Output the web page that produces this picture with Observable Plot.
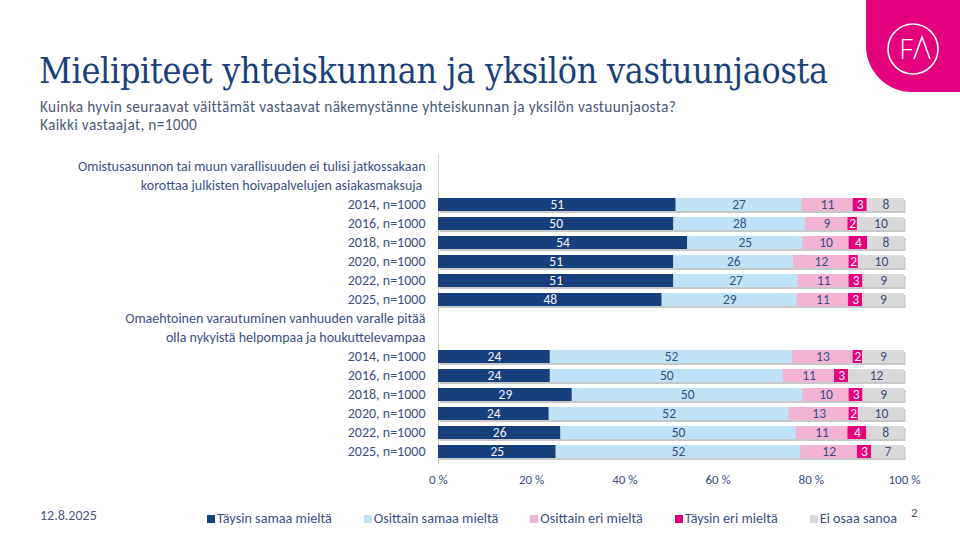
<!DOCTYPE html>
<html><head><meta charset="utf-8">
<script src="https://cdn.jsdelivr.net/npm/d3@7"></script>
<script src="https://cdn.jsdelivr.net/npm/@observablehq/plot@0.6"></script>
<style>
html,body{margin:0;padding:0;background:#fff;}
#page{position:relative;width:960px;height:540px;overflow:hidden;background:#fff;font-family:Carlito,Calibri,"Open Sans",sans-serif;}
#logo{position:absolute;left:866px;top:0;width:94px;height:92px;background:#e5007e;border-bottom-left-radius:46px;}
#title{position:absolute;left:39px;top:50px;font-family:"DejaVu Serif Condensed","DejaVu Serif",serif;font-size:35.6px;color:#1b3f7a;white-space:nowrap;letter-spacing:-0.3px;}
#sub{position:absolute;left:40px;top:98px;font-size:15.3px;line-height:17.5px;letter-spacing:0.35px;color:#4a5878;white-space:nowrap;}
#chart{position:absolute;left:0;top:140px;}
#date{position:absolute;left:40px;top:507px;font-size:14px;color:#4a5878;}
#pnum{position:absolute;left:911px;top:505px;font-size:13px;color:#4a5878;}
#legend{position:absolute;left:207px;top:509px;display:flex;gap:32px;font-size:14.2px;color:#3c4f7f;white-space:nowrap;}
#legend span.sw{display:inline-block;width:8px;height:8px;margin-right:2px;}
</style></head>
<body><div id="page">
<div id="logo"><svg width="94" height="92"><circle cx="47" cy="49" r="25" fill="none" stroke="#fff" stroke-width="1.6"/><text x="40" y="59" text-anchor="middle" fill="#fff" font-family="Open Sans" font-weight="300" font-size="27">F</text><polyline points="48,59 56,37 64,59" fill="none" stroke="#fff" stroke-width="1.6"/></svg></div>
<div id="title">Mielipiteet yhteiskunnan ja yksilön vastuunjaosta</div>
<div id="sub">Kuinka hyvin seuraavat väittämät vastaavat näkemystänne yhteiskunnan ja yksilön vastuunjaosta?<br>Kaikki vastaajat, n=1000</div>
<div id="chart"></div>
<div id="date">12.8.2025</div>
<div id="legend"></div>
<div id="pnum">2</div>
</div>
<script>
const categories = ["Täysin samaa mieltä","Osittain samaa mieltä","Osittain eri mieltä","Täysin eri mieltä","Ei osaa sanoa"];
const colors = ["#173f7c","#bfe2f7","#f3b4d4","#e5007e","#d9d9d9"];
const years = ["2014, n=1000","2016, n=1000","2018, n=1000","2020, n=1000","2022, n=1000","2025, n=1000"];
const statement1 = ["Omistusasunnon tai muun varallisuuden ei tulisi jatkossakaan","korottaa julkisten hoivapalvelujen asiakasmaksuja "];
const statement2 = ["Omaehtoinen varautuminen vanhuuden varalle pitää","olla nykyistä helpompaa ja houkuttelevampaa"];
const values1 = [[51,27,11,3,8],[50,28,9,2,10],[54,25,10,4,8],[51,26,12,2,10],[51,27,11,3,9],[48,29,11,3,9]];
const values2 = [[24,52,13,2,9],[24,50,11,3,12],[29,50,10,3,9],[24,52,13,2,10],[26,50,11,4,8],[25,52,12,3,7]];
const tickValues = [0,0.2,0.4,0.6,0.8,1];
const tickLabels = ["0 %","20 %","40 %","60 %","80 %","100 %"];

const groups = [{id:"A", lines:statement1, values:values1},{id:"B", lines:statement2, values:values2}];
const domain = [], labelOf = {}, rows = [], rowKeys = [];
for (const g of groups) {
  g.lines.forEach((l,i)=>{const k=g.id+"|h"+i; domain.push(k); labelOf[k]=l;});
  years.forEach((y,i)=>{
    const k=g.id+"|"+y; domain.push(k); labelOf[k]=y; rowKeys.push(k);
    g.values[i].forEach((v,j)=>rows.push({key:k, cat:categories[j], value:v}));
  });
}
const light = new Set([categories[0],categories[3]]);
const stackOpts = (extra) => Plot.stackX({x:"value", y:"key", z:"cat", order:categories, offset:"normalize", ...extra});

const font = 'Carlito,Calibri,"Open Sans",sans-serif';
const chart = Plot.plot({
  width:960, height:350,
  marginLeft:438, marginRight:56, marginTop:13.6, marginBottom:25.6,
  style:{fontFamily:font, fontSize:"13px", color:"#3c4f7f", background:"transparent"},
  x:{type:"linear", domain:[0,1], label:null},
  y:{type:"band", domain, padding:0.3, label:null},
  color:{domain:categories, range:colors},
  marks:[
    Plot.ruleX([0],{stroke:"#d0d0d0", strokeWidth:1}),
    Plot.barX(rowKeys,{x1:0, x2:1, y:d=>d, fill:"#9a9a9a", fillOpacity:0.55, dx:1.5, dy:2}),
    Plot.barX(rows, stackOpts({fill:"cat"})),
    Plot.text(rows, stackOpts({text:d=>light.has(d.cat)?String(d.value):"", fill:"#f2f4f8", fontSize:13.5})),
    Plot.text(rows, stackOpts({text:d=>light.has(d.cat)?"":String(d.value), fill:"#3c4f7f", fontSize:13.5})),
    Plot.axisY({tickSize:0, tickPadding:13, tickFormat:k=>labelOf[k], fontSize:14}),
    Plot.axisX({ticks:tickValues, tickFormat:d=>tickLabels[tickValues.indexOf(d)], tickSize:0, tickPadding:10, fontSize:13, label:null})
  ]
});
document.getElementById("chart").appendChild(chart);

const leg = document.getElementById("legend");
categories.forEach((c,i)=>{
  const s=document.createElement("span");
  s.innerHTML=`<span class="sw" style="background:${colors[i]}"></span>${c}`;
  leg.appendChild(s);
});
</script>
</body></html>
